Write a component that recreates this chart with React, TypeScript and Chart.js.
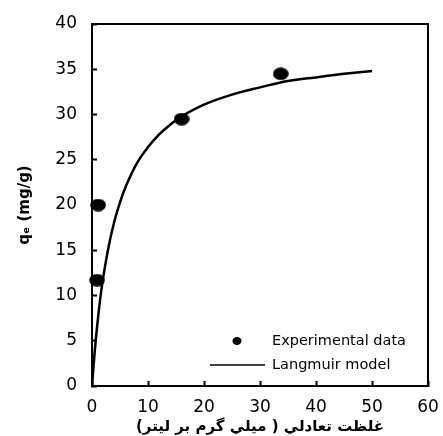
import { useEffect, useRef } from "react";
import { Chart, registerables } from "chart.js";

Chart.register(...registerables);

// Experimental points (Ce, qe)
const expC = [0.9, 1.1, 16.0, 33.7];
const expQ = [11.7, 20.0, 29.5, 34.5];

// Langmuir model curve
const modelC = [0, 0.5, 1, 1.5, 2, 3, 4, 5, 6, 8, 10, 12, 14, 16, 20, 25, 30, 35, 40, 45, 50];
const modelQ = [0, 3.9, 7.1, 9.8, 12.0, 15.5, 18.2, 20.3, 22.0, 24.6, 26.4, 27.8, 28.9, 29.8, 31.1, 32.2, 33.0, 33.7, 34.1, 34.5, 34.8];

const xTickValues = [0, 10, 20, 30, 40, 50, 60];
const yTickValues = [0, 5, 10, 15, 20, 25, 30, 35, 40];

const seriesLabels = ["Experimental data", "Langmuir model"];
const xTitle = "\u202Bغلظت تعادلي ( ميلي گرم بر ليتر)\u202C";
const yTitle = "qₑ (mg/g)";

const FONT = '"DejaVu Sans", "Liberation Sans", sans-serif';

export default function App() {
  const ref = useRef<HTMLCanvasElement | null>(null);

  useEffect(() => {
    if (!ref.current) return;

    const dot = document.createElement("canvas");
    dot.width = 16;
    dot.height = 13;
    const dctx = dot.getContext("2d")!;
    dctx.fillStyle = "#000";
    dctx.beginPath();
    dctx.ellipse(8, 6.5, 7.8, 6.3, 0, 0, Math.PI * 2);
    dctx.fill();

    const boxPlugin = {
      id: "boxAndLegend",
      afterDraw(chart: any) {
        const { ctx, chartArea: ca } = chart;
        ctx.save();
        ctx.strokeStyle = "#000";
        ctx.lineWidth = 2;
        ctx.beginPath();
        ctx.moveTo(ca.left, ca.top);
        ctx.lineTo(ca.right, ca.top);
        ctx.lineTo(ca.right, ca.bottom);
        ctx.stroke();

        // legend
        const labels = chart.data.datasets.map((d: any) => d.label);
        ctx.fillStyle = "#000";
        ctx.font = `14.5px ${FONT}`;
        ctx.textBaseline = "middle";
        ctx.textAlign = "left";
        const tx = ca.right - 156;
        const y1 = ca.bottom - 45;
        const y2 = ca.bottom - 21;
        ctx.beginPath();
        ctx.ellipse(ca.right - 191, y1, 4.5, 4, 0, 0, Math.PI * 2);
        ctx.fill();
        ctx.fillText(labels[0], tx, y1);
        ctx.lineWidth = 1.5;
        ctx.beginPath();
        ctx.moveTo(ca.right - 218, y2);
        ctx.lineTo(ca.right - 163, y2);
        ctx.stroke();
        ctx.fillText(labels[1], tx, y2);
        ctx.restore();
      },
    };

    const chart = new Chart(ref.current, {
      type: "scatter",
      data: {
        datasets: [
          {
            label: seriesLabels[0],
            data: expC.map((c, i) => ({ x: c, y: expQ[i] })),
            pointStyle: dot as any,
            pointRadius: 7,
            backgroundColor: "#000",
            borderColor: "#000",
            showLine: false,
            clip: false as any,
            order: 0,
          },
          {
            label: seriesLabels[1],
            data: modelC.map((c, i) => ({ x: c, y: modelQ[i] })),
            showLine: true,
            borderColor: "#000",
            borderWidth: 2.5,
            pointRadius: 0,
            tension: 0.4,
            fill: false,
            order: 1,
          } as any,
        ],
      },
      options: {
        animation: false,
        responsive: true,
        maintainAspectRatio: false,
        layout: { padding: { left: 0, top: 24, right: 15, bottom: 0 } },
        plugins: {
          legend: { display: false },
          tooltip: { enabled: false },
        },
        scales: {
          x: {
            type: "linear",
            min: 0,
            max: 60,
            afterBuildTicks: (s: any) => {
              s.ticks = xTickValues.map((v) => ({ value: v }));
            },
            afterFit: (s: any) => {
              s.height = 50;
              s.paddingLeft = 0;
              s.paddingRight = 0;
            },
            ticks: {
              color: "#000",
              font: { family: FONT, size: 17 },
              padding: 16,
            },
            grid: {
              drawOnChartArea: false,
              drawTicks: true,
              tickLength: -5,
              tickWidth: 2,
              tickColor: "#000",
            },
            border: { color: "#000", width: 2 },
            title: {
              display: true,
              text: xTitle,
              color: "#000",
              font: { family: FONT, size: 15, weight: "bold" },
              padding: { top: 0, bottom: 0 },
            },
          },
          y: {
            type: "linear",
            min: 0,
            max: 40,
            afterBuildTicks: (s: any) => {
              s.ticks = yTickValues.map((v) => ({ value: v }));
            },
            afterFit: (s: any) => {
              s.width = 92;
              s.paddingTop = 0;
              s.paddingBottom = 0;
            },
            ticks: {
              color: "#000",
              font: { family: FONT, size: 17 },
              padding: 20,
            },
            grid: {
              drawOnChartArea: false,
              drawTicks: true,
              tickLength: -5,
              tickWidth: 2,
              tickColor: "#000",
            },
            border: { color: "#000", width: 2 },
            title: {
              display: true,
              text: yTitle,
              color: "#000",
              font: { family: FONT, size: 15, weight: "bold" },
              padding: { top: 16, bottom: 0 },
            },
          },
        },
      },
      plugins: [boxPlugin],
    });

    return () => chart.destroy();
  }, []);

  return (
    <div style={{ position: "fixed", left: 0, top: 0, width: 443, height: 436, background: "#fff" }}>
      <canvas ref={ref} />
    </div>
  );
}
